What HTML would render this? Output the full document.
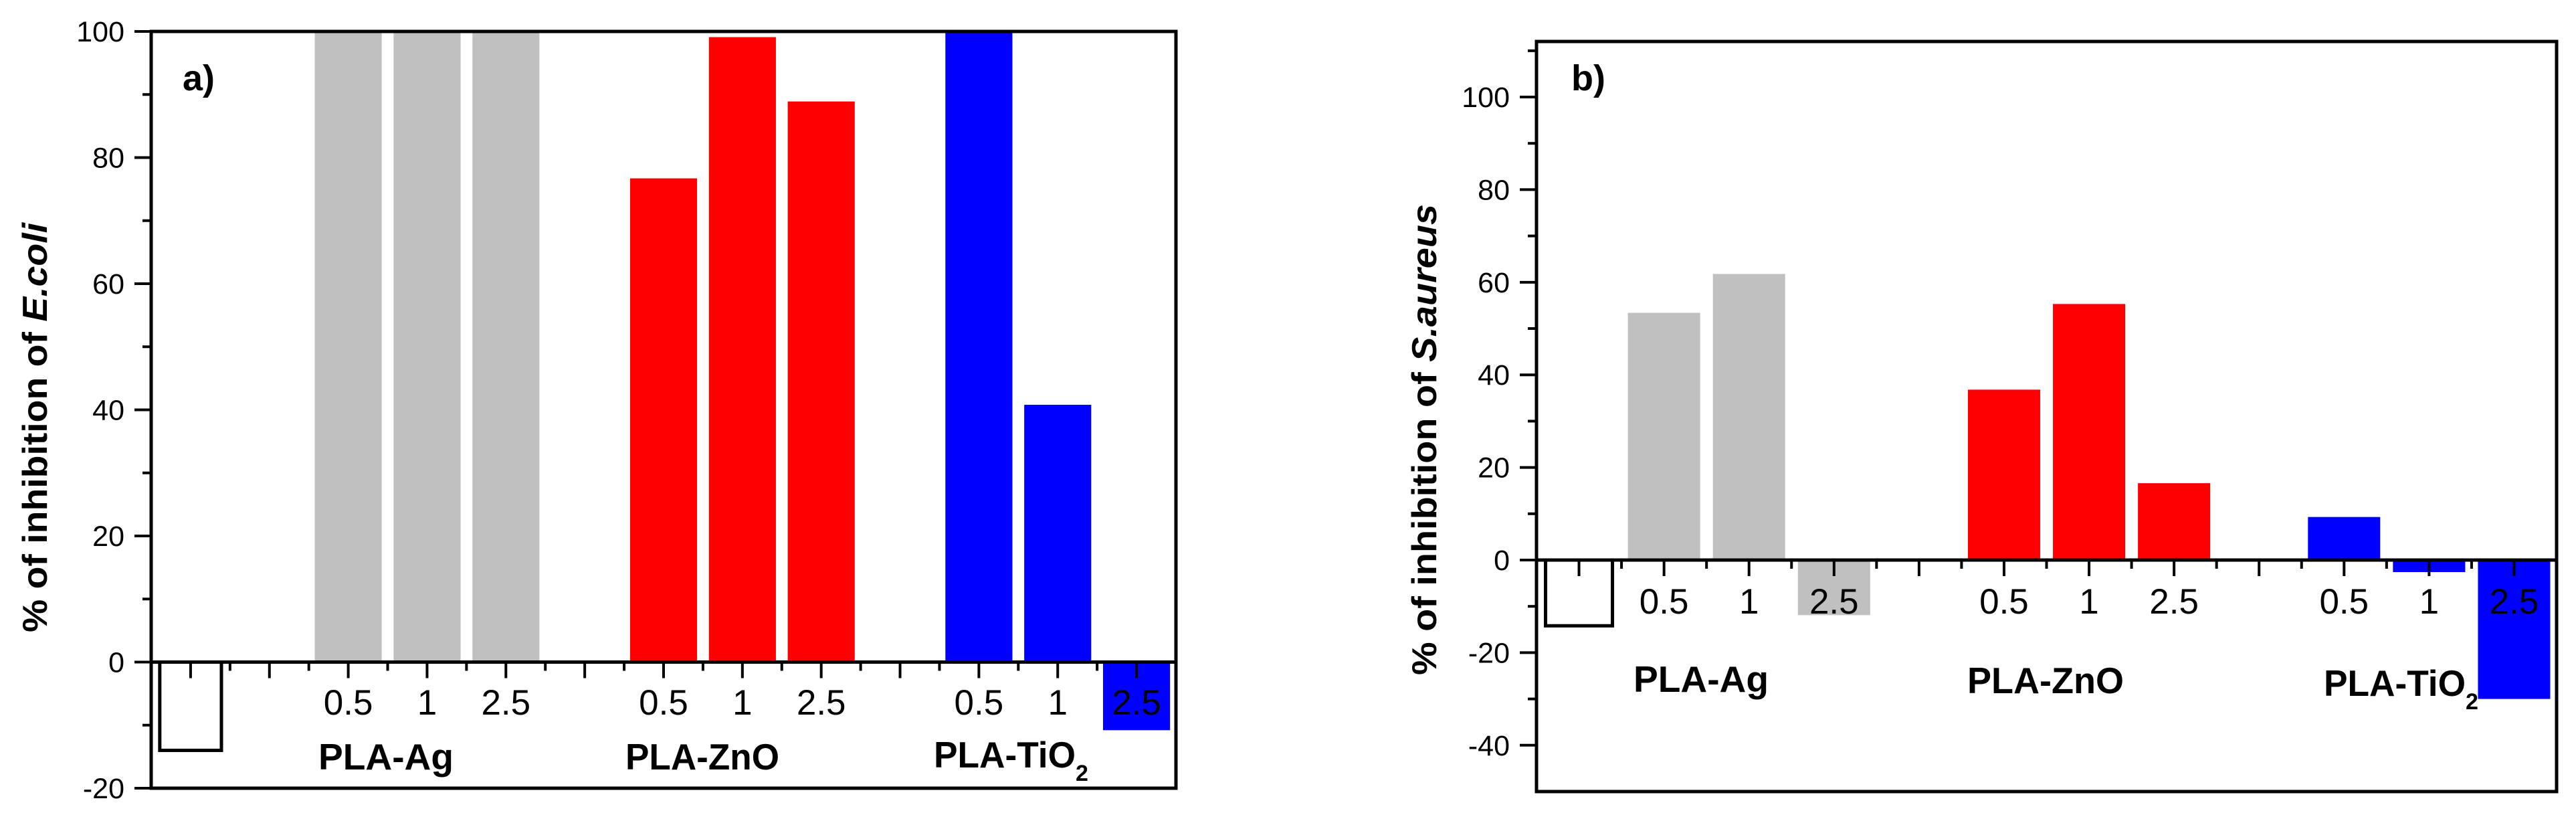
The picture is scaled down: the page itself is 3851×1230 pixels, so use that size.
<!DOCTYPE html>
<html><head><meta charset="utf-8">
<style>
html,body{margin:0;padding:0;background:#fff;}
svg{display:block;}
text{font-family:"Liberation Sans",Arial,sans-serif;fill:#000;}
</style></head>
<body>
<svg id="fig" width="3851" height="1230" viewBox="0 0 3851 1230" xmlns="http://www.w3.org/2000/svg">
<rect x="0" y="0" width="3851" height="1230" fill="#fff"/>
<g id="panelA"></g>
<g id="panelB"></g>
</svg>
<script>
// ---- Panel a data (E. coli) ----
const aCategories = ["blank", "", "Ag 0.5", "Ag 1", "Ag 2.5", "", "ZnO 0.5", "ZnO 1", "ZnO 2.5", "", "TiO2 0.5", "TiO2 1", "TiO2 2.5"];
const aValues = [-14, null, 100, 100, 100, null, 76.7, 99.1, 88.9, null, 100, 40.8, -10.8];
const aTickLabels = ["", "", "0.5", "1", "2.5", "", "0.5", "1", "2.5", "", "0.5", "1", "2.5"];
const aYTicks = [-20, 0, 20, 40, 60, 80, 100];
// ---- Panel b data (S. aureus) ----
const bCategories = ["blank", "Ag 0.5", "Ag 1", "Ag 2.5", "", "ZnO 0.5", "ZnO 1", "ZnO 2.5", "", "TiO2 0.5", "TiO2 1", "TiO2 2.5"];
const bValues = [-14.2, 53.4, 61.8, -11.9, null, 36.8, 55.3, 16.6, null, 9.3, -2.6, -30];
const bTickLabels = ["", "0.5", "1", "2.5", "", "0.5", "1", "2.5", "", "0.5", "1", "2.5"];
const bYTicks = [-40, -20, 0, 20, 40, 60, 80, 100];

const NS = "http://www.w3.org/2000/svg";
function mk(tag, attrs, parent){
  const e = document.createElementNS(NS, tag);
  for (const k in attrs) e.setAttribute(k, attrs[k]);
  parent.appendChild(e);
  return e;
}
function colorFor(cat){
  if (cat === "blank") return "none";
  if (cat.indexOf("Ag") === 0) return "#c0c0c0";
  if (cat.indexOf("ZnO") === 0) return "#ff0000";
  return "#0000ff";
}

function drawPanel(g, cfg, cats, vals, tlabels, yticks){
  const n = cats.length;
  const slot = (cfg.x1 - cfg.x0) / n;
  const xC = i => cfg.x0 + slot * (i + 0.5);
  const yS = v => cfg.y1 - (v - cfg.ymin) / (cfg.ymax - cfg.ymin) * (cfg.y1 - cfg.y0);
  const bw = slot * 0.85;
  const clip = mk("clipPath", {id: cfg.id + "clip"}, g);
  mk("rect", {x: cfg.x0, y: cfg.y0, width: cfg.x1 - cfg.x0, height: cfg.y1 - cfg.y0}, clip);
  const bars = mk("g", {"clip-path": "url(#" + cfg.id + "clip)"}, g);
  
  
  for (let i = 0; i < n; i++){
    if (vals[i] === null) continue;
    const y0 = yS(0), yv = yS(vals[i]);
    const r = mk("rect", {x: xC(i) - bw/2, y: Math.min(y0, yv), width: bw, height: Math.abs(yv - y0),
      fill: colorFor(cats[i])}, bars);
    if (cats[i] === "blank"){ r.setAttribute("stroke", "#000"); r.setAttribute("stroke-width", "5"); r.setAttribute("x", xC(i) - bw/2 + 4); r.setAttribute("width", bw - 8); }
    
    
  }
  // zero line
  const z = mk("line", {x1: cfg.x0, x2: cfg.x1, y1: yS(0), y2: yS(0), stroke: "#000", "stroke-width": 5}, g);
  
  
  // x ticks
  for (let i = 0; i < n; i++){
    const t = mk("line", {x1: xC(i), x2: xC(i), y1: yS(0), y2: yS(0) + 24, stroke: "#000", "stroke-width": 4}, g);
    
    
    if (i > 0){
      const m = mk("line", {x1: cfg.x0 + slot*i, x2: cfg.x0 + slot*i, y1: yS(0), y2: yS(0) + 13, stroke: "#000", "stroke-width": 4}, g);
      
      
    }
    if (tlabels[i]){
      const tx = mk("text", {x: xC(i), y: cfg.xlabY, "text-anchor": "middle", "font-size": 53}, g);
      tx.textContent = tlabels[i];
      
      
    }
  }
  // y ticks
  const step = yticks[1] - yticks[0];
  for (let k = 0; k < yticks.length; k++){
    const v = yticks[k];
    const t = mk("line", {x1: cfg.x0 - 25, x2: cfg.x0, y1: yS(v), y2: yS(v), stroke: "#000", "stroke-width": 4}, g);
    
    
    const tx = mk("text", {x: cfg.x0 - 40, y: yS(v) + 15, "text-anchor": "end", "font-size": 43}, g);
    tx.textContent = String(v);
    
    
    const mv = v + step/2;
    if (mv < cfg.ymax){
      const m = mk("line", {x1: cfg.x0 - 13, x2: cfg.x0, y1: yS(mv), y2: yS(mv), stroke: "#000", "stroke-width": 4}, g);
      
      
    }
  }
  // frame
  const f = mk("rect", {x: cfg.x0, y: cfg.y0, width: cfg.x1 - cfg.x0, height: cfg.y1 - cfg.y0, fill: "none", stroke: "#000", "stroke-width": 5}, g);
  
  
}

const A = {id: "a", x0: 226, x1: 1758, y0: 47, y1: 1178, ymin: -20, ymax: 100, xlabY: 1068};
const B = {id: "b", x0: 2297, x1: 3822, y0: 62, y1: 1183, ymin: -50, ymax: 112, xlabY: 917};
drawPanel(document.getElementById("panelA"), A, aCategories, aValues, aTickLabels, aYTicks);
drawPanel(document.getElementById("panelB"), B, bCategories, bValues, bTickLabels, bYTicks);
</script>
<svg width="0" height="0" style="position:absolute;left:0;top:0"></svg>
<svg width="3851" height="1230" viewBox="0 0 3851 1230" style="position:absolute;left:0;top:0">
  <text x="273" y="135" font-size="54" font-weight="bold">a)</text>
  <text x="2349" y="135" font-size="54" font-weight="bold">b)</text>
  <text x="476" y="1150" font-size="55" font-weight="bold" textLength="202" lengthAdjust="spacingAndGlyphs">PLA-Ag</text>
  <text x="935" y="1150" font-size="55" font-weight="bold" textLength="230" lengthAdjust="spacingAndGlyphs">PLA-ZnO</text>
  <text x="1396" y="1147" font-size="55" font-weight="bold"><tspan textLength="212" lengthAdjust="spacingAndGlyphs">PLA-TiO</tspan><tspan font-size="34" dy="20">2</tspan></text>
  <text x="2442" y="1034" font-size="55" font-weight="bold" textLength="202" lengthAdjust="spacingAndGlyphs">PLA-Ag</text>
  <text x="2941" y="1036" font-size="55" font-weight="bold" textLength="234" lengthAdjust="spacingAndGlyphs">PLA-ZnO</text>
  <text x="3474" y="1040" font-size="55" font-weight="bold"><tspan textLength="212" lengthAdjust="spacingAndGlyphs">PLA-TiO</tspan><tspan font-size="34" dy="20">2</tspan></text>
  <text transform="translate(70,639) rotate(-90)" text-anchor="middle" font-size="52" font-weight="bold" textLength="612" lengthAdjust="spacingAndGlyphs">% of inhibition of <tspan font-style="italic">E.coli</tspan></text>
  <text transform="translate(2147,657) rotate(-90)" text-anchor="middle" font-size="52" font-weight="bold" textLength="704" lengthAdjust="spacingAndGlyphs">% of inhibition of <tspan font-style="italic">S.aureus</tspan></text>
</svg>
</body></html>
